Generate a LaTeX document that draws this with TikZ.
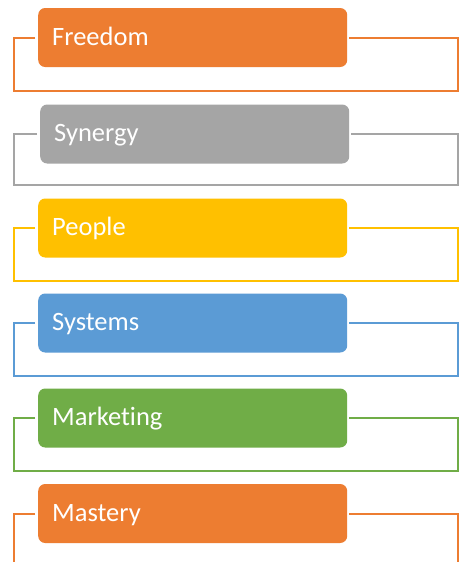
\documentclass[tikz,border=0pt]{standalone}
\usepackage{fontspec}
\setmainfont{Carlito}[Ligatures=NoCommon]
\definecolor{cOrange}{HTML}{ED7D31}
\definecolor{cGray}{HTML}{A5A5A5}
\definecolor{cYellow}{HTML}{FFC000}
\definecolor{cBlue}{HTML}{5B9BD5}
\definecolor{cGreen}{HTML}{70AD47}
\tikzset{
  itembox/.style={fill=#1, draw=none, rounded corners=7pt, anchor=west,
    minimum height=59pt, text width=281pt, inner xsep=14pt, inner ysep=0pt,
    text height=17pt, text depth=1.5pt,
    align=left, text=white, font=\fontsize{26.5}{30}\selectfont},
  link/.style={draw=#1, line width=2pt},
}
\begin{document}
\begin{tikzpicture}[x=1pt,y=-1pt]
\useasboundingbox (0,0) rectangle (458,562);
\fill[white] (0,0) rectangle (458,562);
% boxes
\node[itembox=cOrange] (b1) at (38,37.5) {Freedom};
\node[itembox=cGray]   (b2) at (40,134) {Synergy};
\node[itembox=cYellow] (b3) at (38,228) {People};
\node[itembox=cBlue]   (b4) at (38,323) {Systems};
\node[itembox=cGreen]  (b5) at (38,418) {Marketing};
\node[itembox=cOrange] (b6) at (38,513.5) {Mastery};
% corner coordinates
\coordinate (bl1) at (14,91);  \coordinate (br1) at (458,91);
\coordinate (bl2) at (14,185); \coordinate (br2) at (458,185);
\coordinate (bl3) at (14,281); \coordinate (br3) at (458,281);
\coordinate (bl4) at (14,376); \coordinate (br4) at (458,376);
\coordinate (bl5) at (14,471); \coordinate (br5) at (458,471);
\coordinate (bl6) at (14,566); \coordinate (br6) at (458,566);
% connectors
\draw[link=cOrange] ([xshift=-3pt]b1.west) -| (bl1) -- (br1) |- ([xshift=2pt]b1.east);
\draw[link=cGray]   ([xshift=-3pt]b2.west) -| (bl2) -- (br2) |- ([xshift=2pt]b2.east);
\draw[link=cYellow] ([xshift=-3pt]b3.west) -| (bl3) -- (br3) |- ([xshift=2pt]b3.east);
\draw[link=cBlue]   ([xshift=-3pt]b4.west) -| (bl4) -- (br4) |- ([xshift=2pt]b4.east);
\draw[link=cGreen]  ([xshift=-3pt]b5.west) -| (bl5) -- (br5) |- ([xshift=2pt]b5.east);
\draw[link=cOrange] ([xshift=-3pt]b6.west) -| (bl6);
\draw[link=cOrange] ([xshift=2pt]b6.east) -| (br6);
\end{tikzpicture}
\end{document}
